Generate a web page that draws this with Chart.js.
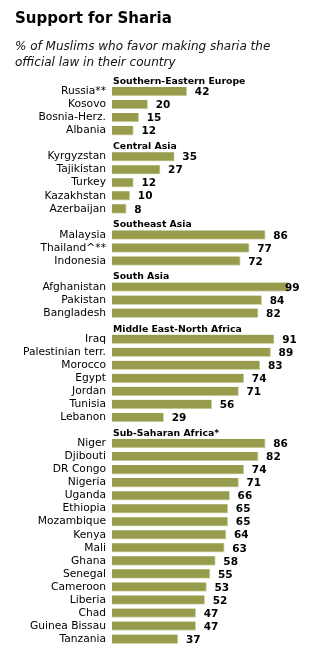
<!DOCTYPE html>
<html>
<head>
<meta charset="utf-8">
<script src="https://cdn.jsdelivr.net/npm/chart.js@4/dist/chart.umd.min.js"></script>
<style>
  body { margin: 0; background: #fff; }
  #wrap { position: relative; width: 328px; height: 658px; }
  #title { position: absolute; left: 15px; top: 9px; font: bold 15px "DejaVu Sans", sans-serif; line-height: 18px; color: #000; }
  #subtitle { position: absolute; left: 15px; top: 38px; font: italic 12px "DejaVu Sans", sans-serif; line-height: 16px; color: #111; }
  canvas { position: absolute; left: 0; top: 0; }
</style>
</head>
<body>
<div id="wrap">
  <canvas id="shariaChart" width="328" height="658"></canvas>
  <div id="title">Support for Sharia</div>
  <div id="subtitle">% of Muslims who favor making sharia the<br>official law in their country</div>
</div>
<script>
// Data
const regions = ['Southern-Eastern Europe', 'Central Asia', 'Southeast Asia', 'South Asia', 'Middle East-North Africa', 'Sub-Saharan Africa*'];
const regionSizes = [4, 5, 3, 3, 7, 16];
const countries = [
  'Russia**', 'Kosovo', 'Bosnia-Herz.', 'Albania',
  'Kyrgyzstan', 'Tajikistan', 'Turkey', 'Kazakhstan', 'Azerbaijan',
  'Malaysia', 'Thailand^**', 'Indonesia',
  'Afghanistan', 'Pakistan', 'Bangladesh',
  'Iraq', 'Palestinian terr.', 'Morocco', 'Egypt', 'Jordan', 'Tunisia', 'Lebanon',
  'Niger', 'Djibouti', 'DR Congo', 'Nigeria', 'Uganda', 'Ethiopia', 'Mozambique', 'Kenya',
  'Mali', 'Ghana', 'Senegal', 'Cameroon', 'Liberia', 'Chad', 'Guinea Bissau', 'Tanzania'
];
const values = [
  42, 20, 15, 12,
  35, 27, 12, 10, 8,
  86, 77, 72,
  99, 84, 82,
  91, 89, 83, 74, 71, 56, 29,
  86, 82, 74, 71, 66, 65, 65, 64,
  63, 58, 55, 53, 52, 47, 47, 37
];

// one header row before each region, then its countries
const labels = [], rowValues = [], headers = [];
let k = 0;
regions.forEach((r, i) => {
  labels.push(''); rowValues.push(null); headers.push(r);
  for (let j = 0; j < regionSizes[i]; j++) {
    labels.push(countries[k]); rowValues.push(values[k]); headers.push(null);
    k++;
  }
});

const FONT = '"DejaVu Sans", sans-serif';

const extraText = {
  id: 'extraText',
  afterDatasetsDraw(chart) {
    const ctx = chart.ctx;
    const y = chart.scales.y;
    ctx.save();
    // region headers
    ctx.font = 'bold 9.3px ' + FONT;
    ctx.fillStyle = '#000';
    ctx.textAlign = 'left';
    ctx.textBaseline = 'middle';
    headers.forEach((h, i) => {
      if (h) ctx.fillText(h, chart.chartArea.left + 1, y.getPixelForValue(i) + 3);
    });
    // value labels
    ctx.font = 'bold 10.5px ' + FONT;
    chart.getDatasetMeta(0).data.forEach((bar, i) => {
      const v = rowValues[i];
      if (v === null) return;
      ctx.fillText(v, Math.min(bar.x + 8, 285), bar.y + 1);
    });
    ctx.restore();
  }
};

new Chart(document.getElementById('shariaChart'), {
  type: 'bar',
  data: {
    labels: labels,
    datasets: [{
      data: rowValues,
      backgroundColor: '#969c4c',
      borderColor: '#d3d5ad',
      borderWidth: { top: 0, left: 0, right: 1, bottom: 1 },
      borderSkipped: false,
      barThickness: 9
    }]
  },
  options: {
    indexAxis: 'y',
    responsive: false,
    animation: false,
    layout: { padding: { top: 71.9, bottom: 8.9, left: 0, right: 37.8 } },
    plugins: { legend: { display: false }, tooltip: { enabled: false } },
    scales: {
      x: { display: false, min: 0, max: 100 },
      y: {
        grid: { display: false, drawTicks: false },
        border: { display: false },
        afterFit(scale) { scale.width = 112; },
        ticks: {
          autoSkip: false,
          padding: 6,
          color: '#000',
          font: { family: FONT, size: 10.7 }
        }
      }
    }
  },
  plugins: [extraText]
});
</script>
</body>
</html>
